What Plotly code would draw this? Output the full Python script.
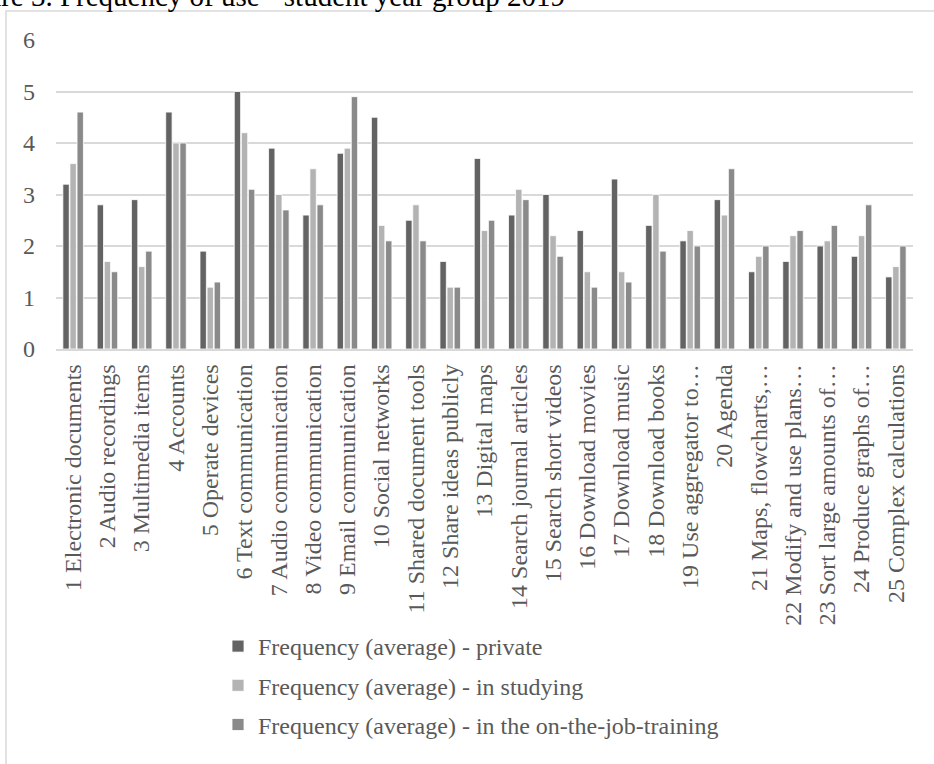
import plotly.graph_objects as go

# Activities surveyed (axis categories)
categories = [
    "1 Electronic documents", "2 Audio recordings", "3 Multimedia items", "4 Accounts",
    "5 Operate devices", "6 Text communication", "7 Audio communication",
    "8 Video communication", "9 Email communication", "10 Social networks",
    "11 Shared document tools", "12 Share ideas publicly", "13 Digital maps",
    "14 Search journal articles", "15 Search short videos", "16 Download movies",
    "17 Download music", "18 Download books", "19 Use aggregator to\u2026", "20 Agenda",
    "21 Maps, flowcharts,\u2026", "22 Modify and use plans\u2026",
    "23 Sort large amounts of\u2026", "24 Produce graphs of\u2026", "25 Complex calculations",
]

# Average frequency of use per setting
private = [3.2, 2.8, 2.9, 4.6, 1.9, 5.0, 3.9, 2.6, 3.8, 4.5, 2.5, 1.7, 3.7,
           2.6, 3.0, 2.3, 3.3, 2.4, 2.1, 2.9, 1.5, 1.7, 2.0, 1.8, 1.4]
studying = [3.6, 1.7, 1.6, 4.0, 1.2, 4.2, 3.0, 3.5, 3.9, 2.4, 2.8, 1.2, 2.3,
            3.1, 2.2, 1.5, 1.5, 3.0, 2.3, 2.6, 1.8, 2.2, 2.1, 2.2, 1.6]
on_the_job = [4.6, 1.5, 1.9, 4.0, 1.3, 3.1, 2.7, 2.8, 4.9, 2.1, 2.1, 1.2, 2.5,
              2.9, 1.8, 1.2, 1.3, 1.9, 2.0, 3.5, 2.0, 2.3, 2.4, 2.8, 2.0]

series_names = [
    "Frequency (average) - private",
    "Frequency (average) - in studying",
    "Frequency (average) - in the on-the-job-training",
]
series_values = [private, studying, on_the_job]
series_colors = ["#636363", "#b3b3b3", "#8a8a8a"]

FONT = "Liberation Serif, Times New Roman, serif"
TEXT = "#595959"

# Page geometry (pixels)
W, H = 934, 764
L, R, T, B = 56, 21, 40, 415
pw, ph = W - L - R, H - T - B


def px_x(p):
    return (p - L) / pw


def px_y(p):
    return (H - B - p) / ph


fig = go.Figure()
for name, vals, col in zip(series_names, series_values, series_colors):
    fig.add_trace(go.Bar(
        x=categories, y=vals, name=name, legendgroup=name,
        marker=dict(color=col, line=dict(color="white", width=0.8)),
    ))

# Outer chart frame
fig.add_shape(type="rect", xref="paper", yref="paper",
              x0=px_x(6), x1=px_x(W + 10), y0=px_y(H + 10), y1=px_y(11),
              line=dict(color="#d9d9d9", width=1.5), fillcolor="rgba(0,0,0,0)",
              layer="below")

# Figure caption above the frame
fig.add_annotation(xref="paper", yref="paper", x=px_x(567), y=px_y(14),
                   xanchor="right", yanchor="bottom", showarrow=False,
                   text="Figure 3. Frequency of use - student year group 2019",
                   font=dict(family=FONT, size=29, color="#000000"))

fig.update_layout(
    width=W, height=H,
    margin=dict(l=L, r=R, t=T, b=B, autoexpand=False),
    paper_bgcolor="white", plot_bgcolor="white",
    barmode="group", bargap=0.38, bargroupgap=0.1,
    font=dict(family=FONT, size=24, color=TEXT),
    showlegend=True,
    legend=dict(orientation="v", x=px_x(218), y=px_y(624), xanchor="left",
                yanchor="top", traceorder="grouped", tracegroupgap=5,
                font=dict(family=FONT, size=24, color=TEXT),
                bgcolor="rgba(0,0,0,0)"),
)
fig.update_xaxes(
    tickangle=-90, showgrid=False, showline=True, linecolor="#d9d9d9",
    linewidth=1.5, ticks="", tickfont=dict(family=FONT, size=24, color=TEXT),
    ticklabelstandoff=4,
)
fig.update_yaxes(
    range=[0, 6], dtick=1, showgrid=True, gridcolor="#d9d9d9", gridwidth=1.5,
    zeroline=False, showline=False, ticks="",
    tickfont=dict(family=FONT, size=24, color=TEXT), ticklabelstandoff=20,
)

fig.write_html("out.html")
